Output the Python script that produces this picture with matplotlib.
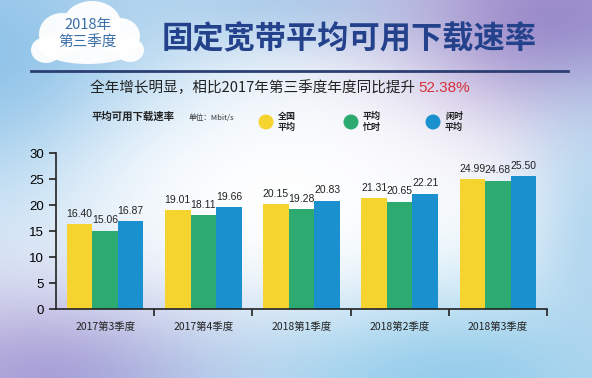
import numpy as np
import matplotlib.pyplot as plt
from matplotlib.patches import Ellipse

plt.rcParams['font.family'] = ['Noto Sans CJK SC', 'DejaVu Sans']

categories = ['2017第3季度', '2017第4季度', '2018第1季度', '2018第2季度', '2018第3季度']
national_avg = [16.40, 19.01, 20.15, 21.31, 24.99]
busy_avg = [15.06, 18.11, 19.28, 20.65, 24.68]
idle_avg = [16.87, 19.66, 20.83, 22.21, 25.50]
series_names = ['全国\n平均', '平均\n忙时', '闲时\n平均']
yticks = [0, 5, 10, 15, 20, 25, 30]

colors = ['#F5D430', '#2DAA6F', '#1A90CF']
W, H = 592, 378


def px(x, y):
    return x / W, 1 - y / H


def background():
    yy, xx = np.mgrid[0:H, 0:W]
    xx = xx / W
    yy = yy / H
    img = np.ones((H, W, 3))

    def blob(cx, cy, sx, sy, col, strength=1.0):
        w = strength * np.exp(-(((xx - cx) / sx) ** 2 + ((yy - cy) / sy) ** 2))
        for k in range(3):
            img[:, :, k] = img[:, :, k] * (1 - w) + col[k] * w

    blob(0.0, 0.15, 0.35, 0.5, (0.55, 0.76, 0.91))
    blob(0.45, 0.0, 0.35, 0.15, (0.65, 0.80, 0.92), 0.9)
    blob(0.95, 0.05, 0.3, 0.3, (0.60, 0.52, 0.78))
    blob(0.1, 1.0, 0.35, 0.25, (0.66, 0.60, 0.83))
    blob(0.75, 1.0, 0.45, 0.3, (0.58, 0.80, 0.92))
    blob(1.0, 0.6, 0.12, 0.4, (0.62, 0.80, 0.92), 0.8)
    blob(0.45, 0.52, 0.36, 0.3, (1, 1, 1), 0.92)
    return img


def main():
    fig = plt.figure(figsize=(5.92, 3.78), dpi=100)
    bg = fig.add_axes([0, 0, 1, 1])
    bg.imshow(background(), aspect='auto', extent=[0, 1, 0, 1])
    bg.set_xlim(0, 1)
    bg.set_ylim(0, 1)
    bg.axis('off')

    # cloud badge
    for cx, cy, w, h in [(88, 46, 100, 36), (62, 34, 46, 42), (92, 24, 58, 46),
                         (120, 36, 40, 36), (46, 50, 30, 26), (130, 50, 28, 24)]:
        x0, y0 = px(cx, cy)
        bg.add_patch(Ellipse((x0, y0), w / W, h / H, color='white', alpha=0.95, lw=0))
    fig.text(*px(88, 25), '2018年', ha='center', va='center', fontsize=10.5, color='#3A6EA8')
    fig.text(*px(88, 43), '第三季度', ha='center', va='center', fontsize=10.5, color='#3A6EA8')

    fig.text(*px(349, 39), '固定宽带平均可用下载速率', ha='center', va='center',
             fontsize=22.5, fontweight='bold', color='#24428C')
    bg.plot([31 / W, 568 / W], [1 - 71 / H] * 2, color='#2C3F72', lw=2)

    t = fig.text(*px(90, 88), '全年增长明显，相比2017年第三季度年度同比提升 ', ha='left',
                 va='center', fontsize=10.5, color='#222222')
    fig.canvas.draw()
    bb = t.get_window_extent()
    fig.text(bb.x1 / W, 1 - 88 / H, '52.38%', ha='left', va='center',
             fontsize=11, color='#D7303A', family=['Liberation Sans'])

    fig.text(*px(91, 117), '平均可用下载速率', ha='left', va='center', fontsize=7.5,
             fontweight='bold', color='#222222')
    fig.text(*px(189, 118), '单位：Mbit/s', ha='left', va='center', fontsize=5.5, color='#333333')

    for cx, name, col in zip([266, 351, 433], series_names, colors):
        x0, y0 = px(cx, 122)
        bg.add_patch(Ellipse((x0, y0), 15 / W, 15 / H, color=col, lw=0))
        fig.text(x0 + 12 / W, y0, name, ha='left', va='center', fontsize=6.5,
                 fontweight='bold', color='#222222', linespacing=1.2)

    ax = fig.add_axes([56 / W, 1 - 309 / H, (547 - 56) / W, (309 - 153) / H])
    ax.patch.set_alpha(0)
    x = np.arange(len(categories))
    bw = 0.26
    for i, (vals, col) in enumerate(zip([national_avg, busy_avg, idle_avg], colors)):
        pos = x + (i - 1) * bw
        ax.bar(pos, vals, bw, color=col)
        for p, v in zip(pos, vals):
            ax.text(p, v + 1.0, f'{v:.2f}', ha='center', va='bottom', fontsize=7.5,
                    color='#222222', family=['Liberation Sans'])

    ax.set_xlim(-0.5, 4.5)
    ax.set_ylim(0, 30)
    ax.set_yticks(yticks)
    ax.tick_params(axis='y', labelsize=9.5, length=5, width=1.2, color='#222222')
    for lab in ax.get_yticklabels():
        lab.set_family(['Liberation Sans'])
    ax.set_xticks(x)
    ax.set_xticklabels(categories, fontsize=7.5, color='#222222')
    ax.tick_params(axis='x', length=0, pad=9)
    ax.set_xticks(np.arange(-0.5, 5, 1)[1:], minor=True)
    ax.tick_params(axis='x', which='minor', length=5, width=1.2, color='#222222')
    for side in ['top', 'right']:
        ax.spines[side].set_visible(False)
    for side in ['left', 'bottom']:
        ax.spines[side].set_linewidth(1.2)
        ax.spines[side].set_color('#222222')

    fig.savefig('out.png', dpi=100)


if __name__ == "__main__":
    main()
